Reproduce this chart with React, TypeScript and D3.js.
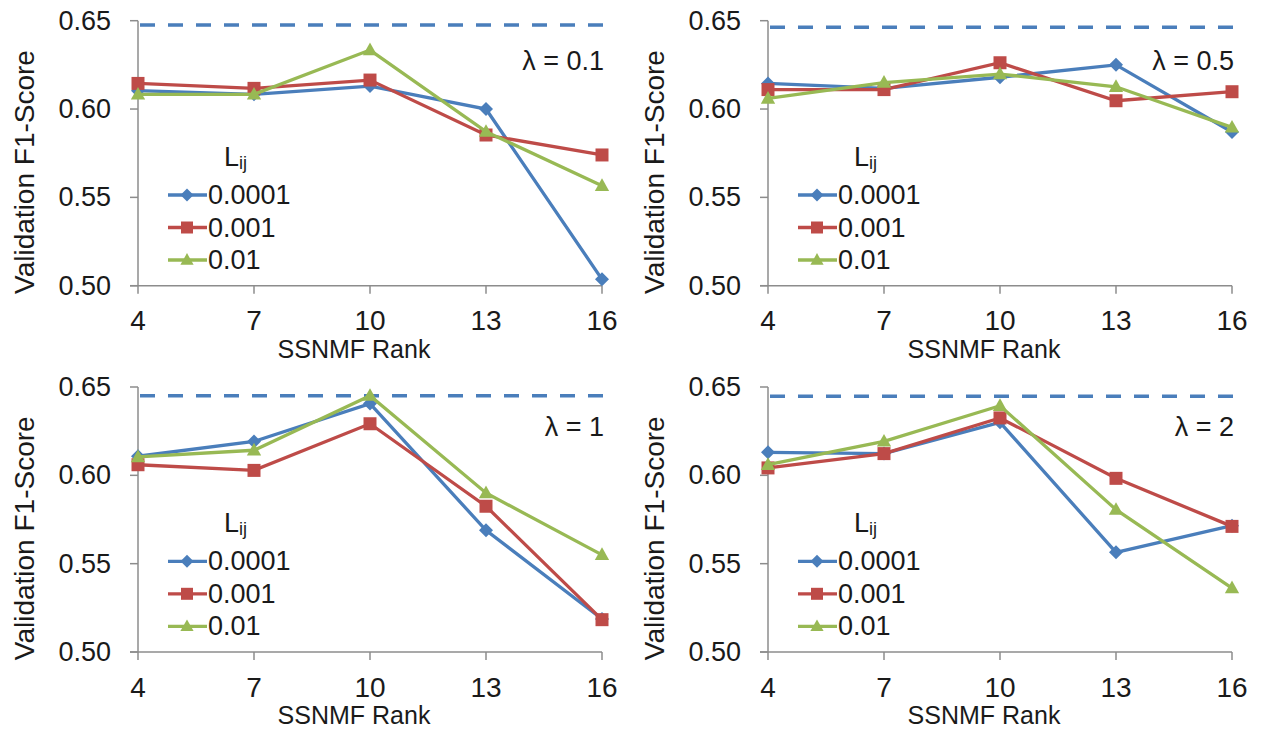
import React, { useEffect, useRef } from 'react';
import * as d3 from 'd3';

// SSNMF rank on the x axis
const ranks = [4, 7, 10, 13, 16];
const yTicks = [0.5, 0.55, 0.6, 0.65];
const lijLabels = ['0.0001', '0.001', '0.01'];
const lambdaLabels = ['λ = 0.1', 'λ = 0.5', 'λ = 1', 'λ = 2'];

// validation F1 per panel, one array per Lij value
const lam01_a = [0.6104, 0.6083, 0.613, 0.600, 0.5036];
const lam01_b = [0.6145, 0.6117, 0.6164, 0.5853, 0.574];
const lam01_c = [0.6083, 0.6083, 0.6334, 0.5872, 0.5566];

const lam05_a = [0.6145, 0.6117, 0.618, 0.625, 0.587];
const lam05_b = [0.611, 0.611, 0.6262, 0.6047, 0.6098];
const lam05_c = [0.606, 0.615, 0.6198, 0.6126, 0.5896];

const lam1_a = [0.6108, 0.6192, 0.6406, 0.5689, 0.5187];
const lam1_b = [0.606, 0.6028, 0.6292, 0.5825, 0.5183];
const lam1_c = [0.6104, 0.6142, 0.6451, 0.590, 0.555];

const lam2_a = [0.613, 0.6123, 0.630, 0.5564, 0.5715];
const lam2_b = [0.6042, 0.6123, 0.6325, 0.5983, 0.5711];
const lam2_c = [0.606, 0.6192, 0.6394, 0.5806, 0.5362];

// dashed reference level in each panel
const baselines = [0.6476, 0.6463, 0.6451, 0.6448];

const panelSeries = [
  [lam01_a, lam01_b, lam01_c],
  [lam05_a, lam05_b, lam05_c],
  [lam1_a, lam1_b, lam1_c],
  [lam2_a, lam2_b, lam2_c],
];

const colors = ['#4A7EBB', '#BE4B48', '#98B954'];
const FONT = '"Liberation Sans", Arial, sans-serif';

function markerPath(i: number, s: number) {
  if (i === 0) return `M0,${-s}L${s},0L0,${s}L${-s},0Z`;
  if (i === 1) return `M${-s},${-s}H${s}V${s}H${-s}Z`;
  return `M0,${-s * 1.15}L${s * 1.1},${s * 0.8}L${-s * 1.1},${s * 0.8}Z`;
}

export default function App() {
  const ref = useRef<SVGSVGElement>(null);

  useEffect(() => {
    const svg = d3.select(ref.current);
    svg.selectAll('*').remove();

    const origins = [[138, 0], [768, 0], [138, 366.3], [768, 366.3]];

    origins.forEach(([ox, oy], p) => {
      const x = d3.scalePoint<number>().domain(ranks).range([ox, ox + 464]);
      const y = d3.scaleLinear().domain([0.5, 0.65]).range([oy + 285.7, oy + 20.7]);
      const g = svg.append('g');
      const axisColor = '#8c8c8c';

      // axes
      g.append('line')
        .attr('x1', ox).attr('x2', ox)
        .attr('y1', y(0.65)).attr('y2', y(0.5))
        .attr('stroke', axisColor).attr('stroke-width', 1.5);
      g.append('line')
        .attr('x1', ox - 8).attr('x2', x(16)!)
        .attr('y1', y(0.5)).attr('y2', y(0.5))
        .attr('stroke', axisColor).attr('stroke-width', 1.5);

      yTicks.forEach(t => {
        g.append('line')
          .attr('x1', ox - 8).attr('x2', ox)
          .attr('y1', y(t)).attr('y2', y(t))
          .attr('stroke', axisColor).attr('stroke-width', 1.5);
        g.append('text')
          .attr('x', ox - 27).attr('y', y(t))
          .attr('text-anchor', 'end').attr('dominant-baseline', 'central')
          .attr('font-family', FONT).attr('font-size', 27).attr('fill', '#1a1a1a')
          .text(t.toFixed(2));
      });

      ranks.forEach(r => {
        g.append('line')
          .attr('x1', x(r)!).attr('x2', x(r)!)
          .attr('y1', y(0.5)).attr('y2', y(0.5) + 8)
          .attr('stroke', axisColor).attr('stroke-width', 1.5);
        g.append('text')
          .attr('x', x(r)!).attr('y', y(0.5) + 35)
          .attr('text-anchor', 'middle').attr('dominant-baseline', 'central')
          .attr('font-family', FONT).attr('font-size', 28).attr('fill', '#1a1a1a')
          .text(r);
      });

      g.append('text')
        .attr('x', ox + 216).attr('y', oy + 349)
        .attr('text-anchor', 'middle').attr('dominant-baseline', 'central')
        .attr('font-family', FONT).attr('font-size', 25).attr('fill', '#1a1a1a')
        .text('SSNMF Rank');

      g.append('text')
        .attr('transform', `translate(${ox - 114},${oy + 172}) rotate(-90)`)
        .attr('text-anchor', 'middle').attr('dominant-baseline', 'central')
        .attr('font-family', FONT).attr('font-size', 28).attr('fill', '#1a1a1a')
        .text('Validation F1-Score');

      g.append('text')
        .attr('x', ox + 466).attr('y', oy + 61)
        .attr('text-anchor', 'end').attr('dominant-baseline', 'central')
        .attr('font-family', FONT).attr('font-size', 27).attr('fill', '#1a1a1a')
        .text(lambdaLabels[p]);

      // dashed reference line
      g.append('line')
        .attr('x1', ox + 2).attr('x2', x(16)! + 7)
        .attr('y1', y(baselines[p])).attr('y2', y(baselines[p]))
        .attr('stroke', '#4A7EBB').attr('stroke-width', 3.5)
        .attr('stroke-dasharray', '15,13');

      const line = d3.line<number>()
        .x((d, i) => x(ranks[i])!)
        .y(d => y(d));

      panelSeries[p].forEach((vals, s) => {
        g.append('path')
          .attr('d', line(vals))
          .attr('fill', 'none')
          .attr('stroke', colors[s]).attr('stroke-width', 3.3);
        vals.forEach((v, i) => {
          g.append('path')
            .attr('d', markerPath(s, s === 0 ? 7 : 6.5))
            .attr('transform', `translate(${x(ranks[i])},${y(v)})`)
            .attr('fill', colors[s]);
        });
      });

      // legend
      g.append('text')
        .attr('x', ox + 86).attr('y', oy + 157)
        .attr('dominant-baseline', 'central')
        .attr('font-family', FONT).attr('font-size', 27).attr('fill', '#1a1a1a')
        .call(t => {
          t.append('tspan').text('L');
          t.append('tspan').attr('font-size', 18).attr('dy', 6).text('ij');
        });

      lijLabels.forEach((lab, s) => {
        const ly = oy + 195 + s * 32.5;
        g.append('line')
          .attr('x1', ox + 30).attr('x2', ox + 69)
          .attr('y1', ly).attr('y2', ly)
          .attr('stroke', colors[s]).attr('stroke-width', 3.3);
        g.append('path')
          .attr('d', markerPath(s, s === 0 ? 6.5 : 6))
          .attr('transform', `translate(${ox + 49},${ly})`)
          .attr('fill', colors[s]);
        g.append('text')
          .attr('x', ox + 70).attr('y', ly)
          .attr('dominant-baseline', 'central')
          .attr('font-family', FONT).attr('font-size', 27).attr('fill', '#1a1a1a')
          .text(lab);
      });
    });
  }, []);

  return (
    <svg ref={ref} width={1266} height={733}
      style={{ position: 'absolute', left: 0, top: 0, background: '#fff' }} />
  );
}
